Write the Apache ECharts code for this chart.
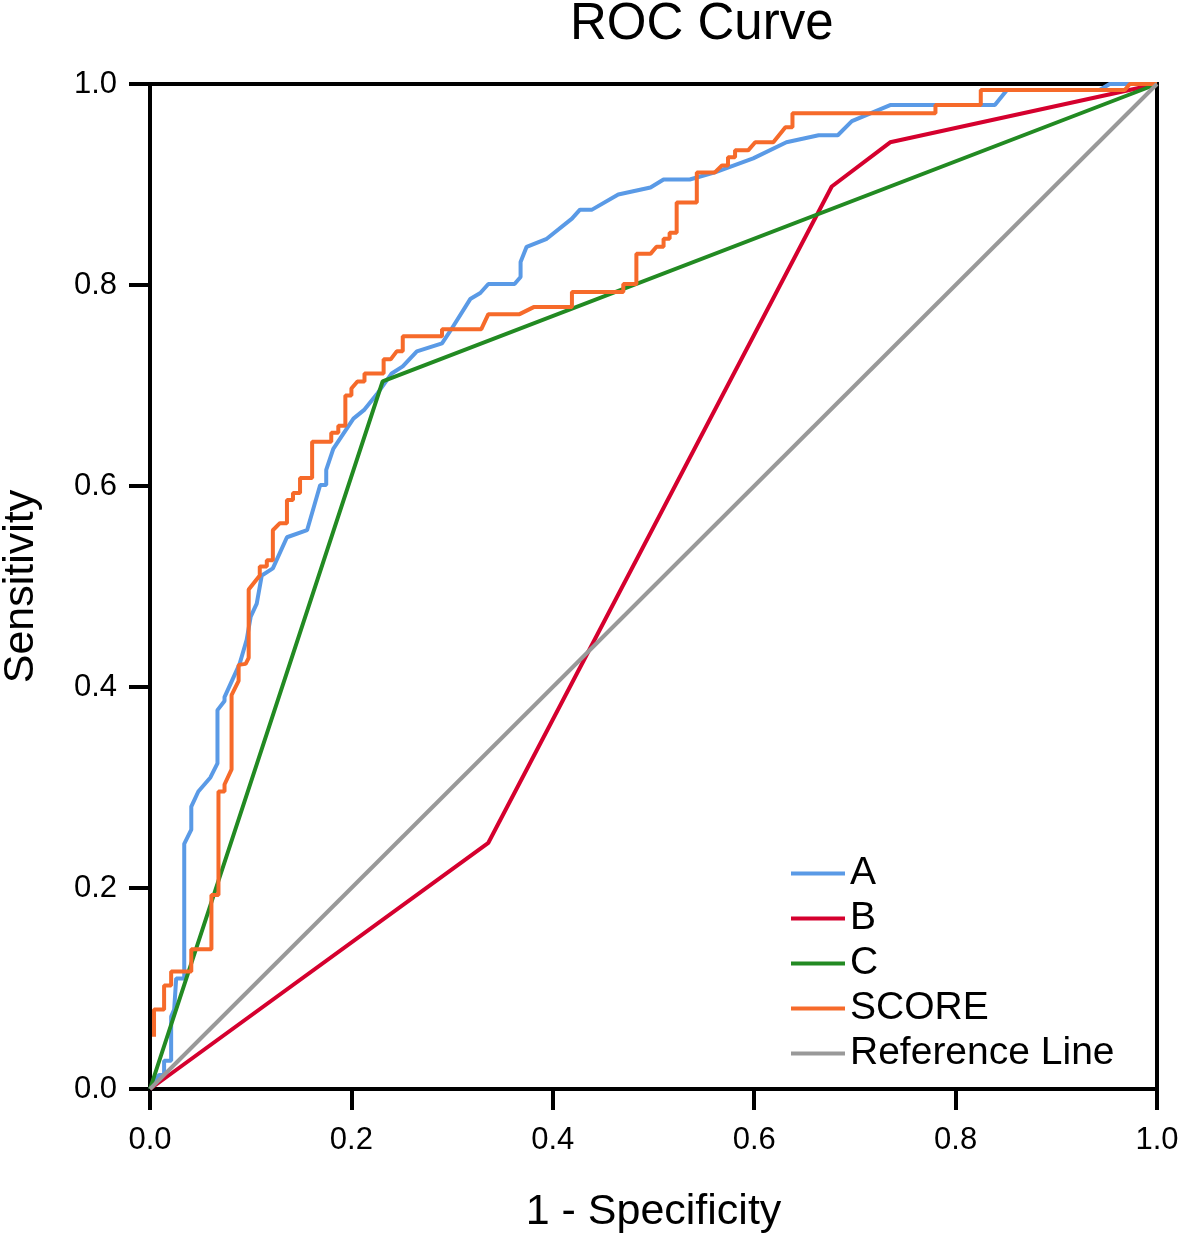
<!DOCTYPE html>
<html>
<head>
<meta charset="utf-8">
<script src="https://cdn.jsdelivr.net/npm/echarts@6/dist/echarts.min.js"></script>
<style>
html,body{margin:0;padding:0;background:#fff;}
#chart{width:1180px;height:1239px;}
</style>
</head>
<body>
<div id="chart"></div>
<script>
const seriesNames = ['A', 'B', 'C', 'SCORE', 'Reference Line'];
const tickValues = [0.0, 0.2, 0.4, 0.6, 0.8, 1.0];

const curveA = [[0,0],[0.009,0.014],[0.014,0.014],[0.014,0.028],[0.021,0.028],[0.021,0.072],[0.024,0.079],[0.026,0.110],[0.034,0.110],[0.034,0.244],[0.041,0.258],[0.041,0.281],[0.048,0.296],[0.060,0.310],[0.067,0.324],[0.067,0.377],[0.074,0.386],[0.074,0.390],[0.089,0.423],[0.096,0.447],[0.100,0.470],[0.106,0.483],[0.111,0.511],[0.122,0.518],[0.136,0.549],[0.156,0.556],[0.169,0.601],[0.175,0.601],[0.175,0.616],[0.182,0.637],[0.202,0.667],[0.213,0.676],[0.225,0.691],[0.240,0.712],[0.251,0.719],[0.265,0.734],[0.290,0.742],[0.298,0.754],[0.318,0.786],[0.328,0.792],[0.336,0.801],[0.362,0.801],[0.368,0.808],[0.368,0.823],[0.374,0.838],[0.394,0.846],[0.419,0.866],[0.427,0.875],[0.439,0.875],[0.465,0.890],[0.497,0.897],[0.510,0.905],[0.536,0.905],[0.561,0.912],[0.599,0.926],[0.632,0.942],[0.664,0.949],[0.683,0.949],[0.697,0.963],[0.735,0.979],[0.839,0.979],[0.851,0.994],[0.943,0.994],[0.953,1.0],[1,1]];

const curveB = [[0,0],[0.336,0.245],[0.677,0.898],[0.735,0.942],[1,1]];

const curveC = [[0,0],[0.231,0.704],[1,1]];

const curveScore = [[0.004,0.052],[0.004,0.079],[0.014,0.079],[0.014,0.103],[0.021,0.103],[0.021,0.117],[0.041,0.117],[0.041,0.139],[0.061,0.139],[0.061,0.193],[0.068,0.193],[0.068,0.296],[0.074,0.296],[0.074,0.303],[0.081,0.318],[0.081,0.392],[0.088,0.406],[0.088,0.422],[0.095,0.423],[0.098,0.429],[0.098,0.497],[0.109,0.511],[0.109,0.520],[0.116,0.520],[0.116,0.526],[0.122,0.526],[0.122,0.556],[0.129,0.563],[0.136,0.563],[0.136,0.586],[0.142,0.586],[0.142,0.593],[0.149,0.593],[0.149,0.608],[0.161,0.608],[0.161,0.644],[0.180,0.644],[0.180,0.653],[0.187,0.653],[0.187,0.660],[0.194,0.660],[0.194,0.690],[0.200,0.690],[0.200,0.697],[0.206,0.704],[0.213,0.704],[0.213,0.712],[0.232,0.712],[0.232,0.726],[0.239,0.726],[0.245,0.734],[0.251,0.734],[0.251,0.749],[0.290,0.749],[0.290,0.756],[0.329,0.756],[0.336,0.771],[0.367,0.771],[0.381,0.778],[0.419,0.778],[0.419,0.793],[0.470,0.793],[0.470,0.801],[0.483,0.801],[0.483,0.831],[0.497,0.831],[0.503,0.838],[0.510,0.838],[0.510,0.846],[0.516,0.846],[0.516,0.852],[0.523,0.852],[0.523,0.882],[0.543,0.882],[0.543,0.912],[0.561,0.912],[0.568,0.919],[0.574,0.919],[0.574,0.927],[0.581,0.927],[0.581,0.934],[0.594,0.934],[0.601,0.942],[0.619,0.942],[0.631,0.957],[0.638,0.957],[0.638,0.971],[0.780,0.971],[0.780,0.979],[0.825,0.979],[0.825,0.994],[0.968,0.994],[0.973,1.0],[1,1]];

const curveRef = [[0,0],[1,1]];

const colors = ['#5A9AE6', '#D5002E', '#228A22', '#F66A2A', '#999999'];
const FONT = '"Liberation Sans", Arial, sans-serif';

const chart = echarts.init(document.getElementById('chart'), null, {renderer: 'canvas'});

function mk(name, data, color) {
  return {
    name: name, type: 'line', data: data, symbol: 'none', smooth: false,
    lineStyle: {color: color, width: 4}, itemStyle: {color: color},
    animation: false, z: 3
  };
}

const option = {
  backgroundColor: '#fff',
  animation: false,
  title: {
    text: 'ROC Curve', left: 565, top: -6,
    textStyle: {fontFamily: FONT, fontSize: 51, fontWeight: 'normal', color: '#000'}
  },
  grid: {
    left: 150, right: 23, top: 84, bottom: 150,
    outerBoundsMode: 'none', containLabel: false,
    show: true, borderColor: '#000', borderWidth: 4, backgroundColor: 'transparent'
  },
  legend: {
    orient: 'vertical', left: 786, top: 849,
    itemWidth: 54, itemHeight: 10, itemGap: 6,
    data: seriesNames.map((n) => ({name: n, icon: 'path://M0,0 L54,0 L54,4 L0,4 Z'})),
    textStyle: {fontFamily: FONT, fontSize: 39, lineHeight: 38, color: '#000', padding: [0,0,0,0]}
  },
  xAxis: {
    type: 'value', min: 0, max: 1, interval: 0.2,
    name: '1 - Specificity', nameLocation: 'middle', nameGap: 102,
    nameTextStyle: {fontFamily: FONT, fontSize: 43, color: '#000'},
    axisLine: {show: true, onZero: false, lineStyle: {color: '#000', width: 4}},
    axisTick: {show: true, inside: false, length: 21, lineStyle: {color: '#000', width: 4}},
    axisLabel: {fontFamily: FONT, fontSize: 31, color: '#000', margin: 36,
      formatter: v => tickValues.includes(+v.toFixed(1)) ? v.toFixed(1) : ''},
    splitLine: {show: false}
  },
  yAxis: {
    type: 'value', min: 0, max: 1, interval: 0.2,
    name: 'Sensitivity', nameLocation: 'middle', nameGap: 107, nameRotate: 90,
    nameTextStyle: {fontFamily: FONT, fontSize: 43, color: '#000'},
    axisLine: {show: true, onZero: false, lineStyle: {color: '#000', width: 4}},
    axisTick: {show: true, inside: false, length: 21, lineStyle: {color: '#000', width: 4}},
    axisLabel: {fontFamily: FONT, fontSize: 31, color: '#000', margin: 33,
      formatter: v => v.toFixed(1)},
    splitLine: {show: false}
  },
  series: [
    mk(seriesNames[0], curveA, colors[0]),
    mk(seriesNames[1], curveB, colors[1]),
    mk(seriesNames[2], curveC, colors[2]),
    mk(seriesNames[3], curveScore, colors[3]),
    mk(seriesNames[4], curveRef, colors[4])
  ]
};
chart.setOption(option);
</script>
</body>
</html>
